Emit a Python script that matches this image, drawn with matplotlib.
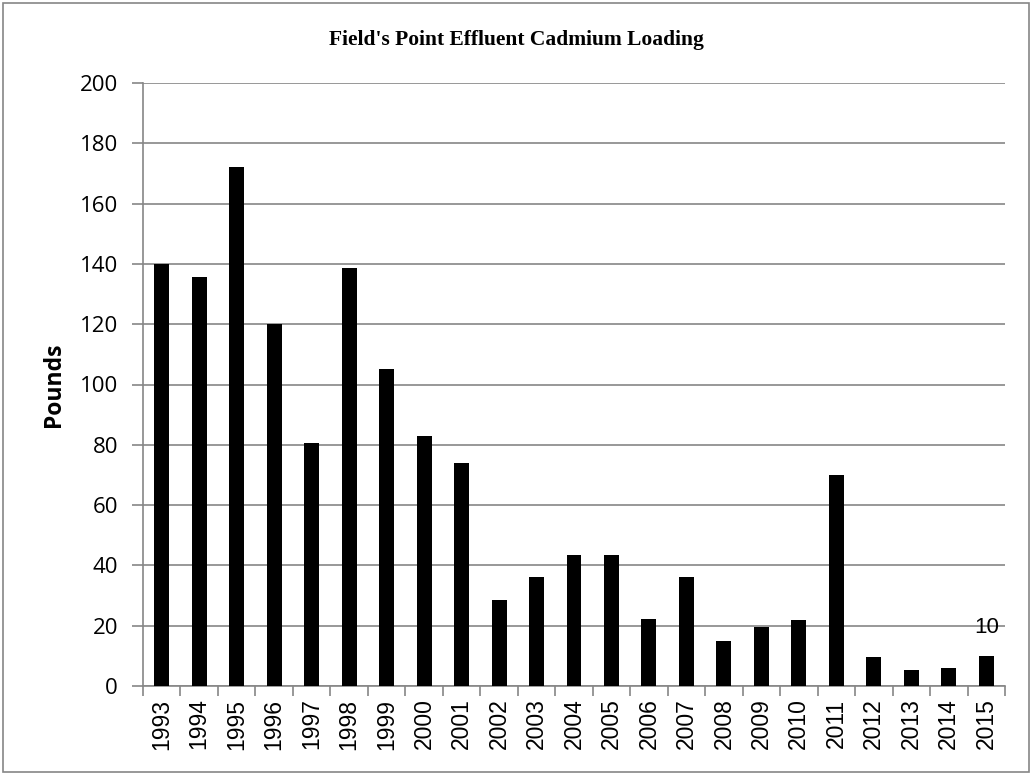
import matplotlib
matplotlib.use('Agg')
import matplotlib.pyplot as plt
from matplotlib.patches import Rectangle

years = ['1993', '1994', '1995', '1996', '1997', '1998', '1999', '2000',
         '2001', '2002', '2003', '2004', '2005', '2006', '2007', '2008',
         '2009', '2010', '2011', '2012', '2013', '2014', '2015']
pounds = [140, 135.5, 172, 120, 80.5, 138.5, 105, 83,
          74, 28.5, 36, 43.3, 43.3, 22.3, 36.3, 15,
          19.5, 22, 70, 9.6, 5.2, 6.1, 10]

fig = plt.figure(figsize=(10.32, 7.75), dpi=100)
ax = fig.add_axes([143 / 1032, 1 - 686 / 775, (1005 - 143) / 1032, (686 - 83) / 775])

x = range(len(years))
ax.bar(x, pounds, width=0.4, color='black', zorder=3)
ax.set_xlim(-0.5, len(years) - 0.5)
ax.set_ylim(0, 200)
ax.set_yticks(range(0, 201, 20))
ax.yaxis.grid(True, color='#868686', linewidth=1.2, zorder=0)

# category boundary ticks on the x axis
ax.set_xticks([i - 0.5 for i in range(len(years) + 1)])
ax.set_xticklabels([])
ax.set_xticks(list(x), minor=True)
ax.set_xticklabels(years, minor=True, rotation=90, fontsize=16.5, family='Liberation Sans')
ax.tick_params(axis='x', which='major', length=7, color='#868686', width=1.2)
ax.tick_params(axis='x', which='minor', length=0, pad=9)
ax.tick_params(axis='y', length=8, color='#868686', width=1.2, labelsize=16, pad=10)
for lab in ax.get_yticklabels():
    lab.set_family('Open Sans')

for side in ['top', 'right']:
    ax.spines[side].set_visible(False)
for side in ['left', 'bottom']:
    ax.spines[side].set_color('#868686')
    ax.spines[side].set_linewidth(1.2)

ax.set_ylabel('Pounds', fontsize=16.5, fontweight='bold', family='Open Sans', labelpad=10)

ax.text(len(years) - 1, pounds[-1] + 6, '%d' % pounds[-1], ha='center', va='bottom',
        fontsize=16, family='Liberation Sans')

fig.text(0.5, 1 - 40 / 775, "Field's Point Effluent Cadmium Loading", ha='center', va='center',
         fontsize=15.5, fontweight='bold', family='Liberation Serif')

fig.patches.append(Rectangle((3 / 1032, 3 / 775), 1 - 6 / 1032, 1 - 6 / 775, transform=fig.transFigure,
                             fill=False, edgecolor='#868686', linewidth=1.2))

fig.savefig('out.png', dpi=100)
